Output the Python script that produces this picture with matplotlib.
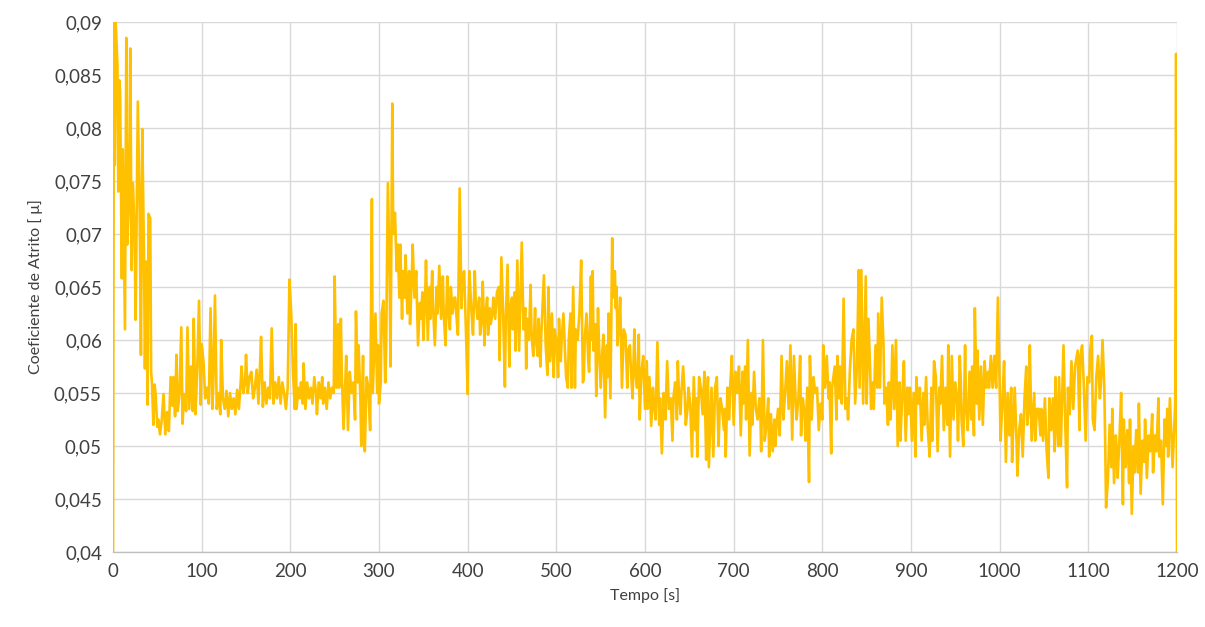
import matplotlib
matplotlib.use("Agg")
import matplotlib.pyplot as plt
from matplotlib.ticker import FuncFormatter, MultipleLocator

# tempo [s] e coeficiente de atrito
tempo = [
    0, 1, 2, 3, 5, 6, 7, 8, 10, 11, 12, 13.5, 15, 16, 18, 19.5, 21, 22.5, 24.5, 25.5,
    27, 28, 30, 31.5, 33, 35, 36, 37.5, 39, 40, 42, 43, 44, 45.5, 47, 48, 50, 51, 53, 55,
    57, 59, 61, 63, 65, 67, 68, 70, 71.5, 73, 75, 77, 78.5, 80, 82.5, 84, 86, 88, 90, 91,
    93, 95, 97, 99, 100,
    102, 104, 106, 108, 110, 112, 113, 115, 117, 119, 121, 122, 124, 126, 128, 130, 132, 134, 136, 138,
    140, 142, 144, 145, 147, 149, 150, 152, 154, 156, 158, 160, 162, 164, 166, 167, 169, 171, 173, 175,
    177, 179, 181, 183, 185, 187, 189, 191, 193, 195, 197, 199, 201, 203, 205, 206, 207, 209,
    211, 212, 214, 215, 217, 219, 221, 223, 225, 227, 229, 230, 232, 234, 236, 237, 239, 241, 243, 245,
    247, 249, 250, 252, 254, 255, 257, 258, 260, 262, 263, 265, 267, 269, 271, 273, 274, 276, 277, 279,
    280, 282, 283, 284, 286, 288, 290, 292, 293, 295, 296, 298, 299, 300, 302, 303, 305, 307, 308, 310,
    312, 313, 315, 316, 318,
    320, 321, 323, 324, 326, 327, 329, 330, 332, 334, 335, 337, 338, 340, 342, 344, 346, 347, 349, 350,
    352, 353, 355, 357, 358, 360, 361, 363, 365, 366, 368, 370, 372, 373, 375, 377, 378, 380, 381, 383,
    385, 386, 388, 389, 391, 393, 394, 396, 398, 400, 401, 402, 404, 406, 408, 409, 411, 413, 414, 416,
    417, 419, 420, 422,
    423, 425, 426, 428, 429, 431, 433, 435, 436, 438, 440, 442, 443, 445, 447, 448, 450, 451, 453, 454,
    456, 458, 459, 461, 463, 465, 466, 467, 469, 471, 472, 474, 476, 477, 479, 480, 482, 483, 486, 488,
    490, 491, 493, 495, 497, 498, 500, 502, 503, 505, 506, 508, 510, 511, 513, 514, 516, 517, 519, 521,
    522, 524, 526, 528, 530,
    531, 532, 534, 536, 537, 539, 540, 541, 542, 544, 545, 547, 548, 550, 552, 553, 555, 557, 558, 559,
    561, 563, 564, 566, 567, 568, 569, 571, 572, 574, 576, 578, 580, 581, 583, 584, 586, 588, 589, 591,
    593, 594, 596, 598, 600, 602, 603, 605, 607, 609, 610, 612, 614, 616, 617, 619, 621, 623, 625, 627,
    629, 631, 632, 634, 636,
    637, 638, 640, 641, 643, 645, 646, 648, 649, 651, 653, 655, 657, 658, 659, 661, 663, 665, 667, 669,
    670, 671, 672, 674, 675, 677, 679, 681, 683, 684, 685, 687, 689, 690, 691, 693, 695, 696, 698, 700,
    702, 704, 706, 708, 710, 711, 713, 714, 716, 718, 720, 721, 723, 725, 727, 729, 730, 731, 733, 735,
    737, 739, 740, 742,
    744, 746, 747, 748, 750, 752, 754, 756, 758, 760, 762, 764, 766, 768, 770, 771, 773, 775, 776, 778,
    780, 781, 783, 785, 786, 788, 790, 792, 794, 796, 798, 800, 801, 803, 805, 807, 808, 810, 811, 814,
    816, 817, 819, 820, 822, 824, 826, 828, 829, 831, 833, 835, 837, 839, 841, 842, 844, 846, 848,
    849, 850, 852, 854, 855, 857, 858, 860, 862, 863, 865, 867, 869, 870, 872, 874, 875, 877, 879, 881,
    883, 885, 887, 888, 890, 892, 894, 896, 897, 899, 901, 903, 905, 906, 908, 910, 912, 914, 915, 917,
    919, 921, 923, 924, 926, 928, 930, 932, 933, 935, 937, 939, 941, 942, 944, 946, 948, 950, 952, 953,
    955,
    956, 957, 959, 961, 962, 964, 966, 968, 969, 971, 972, 974, 975, 977, 979, 981, 983, 985, 987, 988,
    990, 992, 994, 996, 998, 1000, 1001, 1003, 1005, 1007, 1009, 1011, 1013, 1014, 1015, 1017, 1019, 1020, 1022, 1024,
    1026, 1028, 1030, 1031, 1033, 1034, 1036, 1039, 1040, 1042, 1044, 1046, 1047, 1049, 1051, 1053, 1055, 1056, 1058, 1060,
    1062,
    1063, 1064, 1066, 1067, 1069, 1072, 1074, 1076, 1077, 1079, 1081, 1083, 1085, 1087, 1088, 1090, 1091, 1093, 1095, 1097,
    1099, 1101, 1102, 1104, 1105, 1107, 1109, 1111, 1113, 1114, 1116, 1118, 1119, 1120, 1122, 1124, 1126, 1127, 1129, 1131,
    1132, 1133, 1135, 1137, 1139, 1140, 1142, 1144, 1146, 1147, 1149, 1151, 1152, 1154, 1156, 1157, 1159, 1161, 1163, 1164,
    1166, 1168, 1170, 1172, 1173, 1175, 1177, 1179, 1180, 1182, 1184, 1186, 1188, 1189, 1190, 1192, 1195, 1198, 1199, 1200,
]

atrito = [
    0.0400, 0.0900, 0.0765, 0.0900, 0.0860, 0.0740, 0.0845, 0.0835, 0.0658, 0.0780, 0.0710, 0.0610, 0.0885, 0.0690, 0.0727, 0.0875, 0.0666, 0.0748, 0.0694, 0.0619,
    0.0746, 0.0825, 0.0727, 0.0586, 0.0799, 0.0676, 0.0573, 0.0674, 0.0539, 0.0719, 0.0715, 0.0570, 0.0559, 0.0520, 0.0558, 0.0549, 0.0518, 0.0525, 0.0511, 0.0525,
    0.0549, 0.0511, 0.0532, 0.0514, 0.0565, 0.0538, 0.0565, 0.0528, 0.0586, 0.0533, 0.0549, 0.0612, 0.0521, 0.0549, 0.0533, 0.0612, 0.0535, 0.0575, 0.0533, 0.0620,
    0.0530, 0.0571, 0.0637, 0.0539, 0.0596,
    0.0580, 0.0545, 0.0555, 0.0540, 0.0630, 0.0535, 0.0555, 0.0642, 0.0535, 0.0550, 0.0530, 0.0600, 0.0545, 0.0535, 0.0552, 0.0528, 0.0550, 0.0535, 0.0545, 0.0530,
    0.0553, 0.0535, 0.0560, 0.0575, 0.0550, 0.0560, 0.0586, 0.0550, 0.0565, 0.0570, 0.0545, 0.0555, 0.0572, 0.0540, 0.0580, 0.0603, 0.0537, 0.0560, 0.0540, 0.0555,
    0.0545, 0.0611, 0.0540, 0.0560, 0.0545, 0.0565, 0.0540, 0.0560, 0.0550, 0.0535, 0.0555, 0.0657, 0.0625, 0.0570, 0.0535, 0.0615, 0.0535, 0.0555,
    0.0545, 0.0560, 0.0540, 0.0578, 0.0535, 0.0560, 0.0545, 0.0555, 0.0540, 0.0565, 0.0550, 0.0530, 0.0560, 0.0545, 0.0565, 0.0540, 0.0555, 0.0535, 0.0560, 0.0545,
    0.0555, 0.0550, 0.0660, 0.0555, 0.0615, 0.0555, 0.0620, 0.0570, 0.0516, 0.0560, 0.0585, 0.0515, 0.0570, 0.0550, 0.0560, 0.0525, 0.0627, 0.0560, 0.0595, 0.0545,
    0.0500, 0.0585, 0.0510, 0.0495, 0.0565, 0.0555, 0.0515, 0.0733, 0.0550, 0.0600, 0.0625, 0.0550, 0.0595, 0.0540, 0.0560, 0.0625, 0.0637, 0.0560, 0.0590, 0.0748,
    0.0661, 0.0575, 0.0823, 0.0700, 0.0720,
    0.0665, 0.0690, 0.0640, 0.0690, 0.0620, 0.0665, 0.0640, 0.0680, 0.0625, 0.0665, 0.0615, 0.0660, 0.0690, 0.0640, 0.0665, 0.0595, 0.0635, 0.0620, 0.0645, 0.0600,
    0.0640, 0.0675, 0.0600, 0.0650, 0.0620, 0.0665, 0.0630, 0.0595, 0.0650, 0.0625, 0.0670, 0.0620, 0.0660, 0.0625, 0.0595, 0.0660, 0.0630, 0.0610, 0.0650, 0.0625,
    0.0640, 0.0640, 0.0615, 0.0605, 0.0743, 0.0630, 0.0655, 0.0665, 0.0610, 0.0549, 0.0635, 0.0665, 0.0630, 0.0605, 0.0665, 0.0640, 0.0620, 0.0640, 0.0605, 0.0620,
    0.0655, 0.0595, 0.0625, 0.0640,
    0.0605, 0.0630, 0.0615, 0.0625, 0.0640, 0.0620, 0.0645, 0.0650, 0.0581, 0.0678, 0.0625, 0.0556, 0.0620, 0.0671, 0.0575, 0.0630, 0.0640, 0.0610, 0.0645, 0.0590,
    0.0675, 0.0590, 0.0625, 0.0692, 0.0610, 0.0630, 0.0573, 0.0620, 0.0600, 0.0652, 0.0605, 0.0585, 0.0630, 0.0600, 0.0585, 0.0620, 0.0575, 0.0605, 0.0661, 0.0595,
    0.0567, 0.0650, 0.0580, 0.0625, 0.0565, 0.0610, 0.0600, 0.0565, 0.0620, 0.0580, 0.0600, 0.0625, 0.0585, 0.0565, 0.0555, 0.0600, 0.0625, 0.0555, 0.0650, 0.0555,
    0.0610, 0.0600, 0.0625, 0.0675, 0.0560,
    0.0565, 0.0600, 0.0625, 0.0580, 0.0570, 0.0660, 0.0600, 0.0665, 0.0590, 0.0615, 0.0547, 0.0630, 0.0600, 0.0555, 0.0590, 0.0605, 0.0527, 0.0595, 0.0565, 0.0625,
    0.0545, 0.0696, 0.0640, 0.0665, 0.0630, 0.0650, 0.0595, 0.0620, 0.0640, 0.0555, 0.0610, 0.0605, 0.0555, 0.0590, 0.0595, 0.0573, 0.0545, 0.0610, 0.0570, 0.0555,
    0.0605, 0.0525, 0.0570, 0.0585, 0.0535, 0.0580, 0.0535, 0.0565, 0.0519, 0.0555, 0.0540, 0.0525, 0.0598, 0.0520, 0.0545, 0.0493, 0.0550, 0.0525, 0.0580, 0.0535,
    0.0545, 0.0505, 0.0545, 0.0560, 0.0525,
    0.0580, 0.0555, 0.0530, 0.0550, 0.0575, 0.0545, 0.0520, 0.0535, 0.0555, 0.0540, 0.0490, 0.0565, 0.0515, 0.0545, 0.0490, 0.0565, 0.0555, 0.0530, 0.0570, 0.0487,
    0.0540, 0.0565, 0.0480, 0.0530, 0.0555, 0.0490, 0.0555, 0.0565, 0.0500, 0.0530, 0.0545, 0.0535, 0.0515, 0.0535, 0.0490, 0.0555, 0.0525, 0.0555, 0.0585, 0.0520,
    0.0570, 0.0550, 0.0575, 0.0510, 0.0570, 0.0540, 0.0575, 0.0525, 0.0600, 0.0491, 0.0550, 0.0520, 0.0570, 0.0535, 0.0525, 0.0545, 0.0535, 0.0495, 0.0600, 0.0505,
    0.0520, 0.0545, 0.0490, 0.0530,
    0.0495, 0.0525, 0.0500, 0.0515, 0.0535, 0.0510, 0.0585, 0.0525, 0.0550, 0.0580, 0.0535, 0.0595, 0.0506, 0.0585, 0.0540, 0.0525, 0.0545, 0.0585, 0.0510, 0.0545,
    0.0530, 0.0505, 0.0555, 0.0466, 0.0585, 0.0525, 0.0565, 0.0550, 0.0555, 0.0515, 0.0540, 0.0525, 0.0595, 0.0555, 0.0585, 0.0545, 0.0560, 0.0493, 0.0555, 0.0575,
    0.0525, 0.0585, 0.0545, 0.0575, 0.0540, 0.0639, 0.0535, 0.0545, 0.0525, 0.0570, 0.0600, 0.0610, 0.0540, 0.0575, 0.0666, 0.0555, 0.0666, 0.0540, 0.0620,
    0.0660, 0.0540, 0.0620, 0.0570, 0.0535, 0.0560, 0.0535, 0.0595, 0.0555, 0.0625, 0.0555, 0.0640, 0.0595, 0.0540, 0.0555, 0.0520, 0.0560, 0.0525, 0.0595, 0.0535,
    0.0600, 0.0500, 0.0560, 0.0505, 0.0545, 0.0580, 0.0505, 0.0555, 0.0530, 0.0555, 0.0505, 0.0550, 0.0490, 0.0565, 0.0540, 0.0555, 0.0505, 0.0550, 0.0520, 0.0565,
    0.0515, 0.0490, 0.0555, 0.0505, 0.0580, 0.0565, 0.0495, 0.0555, 0.0540, 0.0585, 0.0515, 0.0555, 0.0520, 0.0595, 0.0490, 0.0585, 0.0525, 0.0560, 0.0540, 0.0505,
    0.0585,
    0.0565, 0.0525, 0.0500, 0.0595, 0.0540, 0.0515, 0.0570, 0.0525, 0.0575, 0.0510, 0.0630, 0.0540, 0.0590, 0.0525, 0.0575, 0.0520, 0.0580, 0.0555, 0.0570, 0.0555,
    0.0585, 0.0555, 0.0585, 0.0555, 0.0640, 0.0555, 0.0505, 0.0540, 0.0580, 0.0485, 0.0550, 0.0510, 0.0555, 0.0485, 0.0510, 0.0555, 0.0505, 0.0472, 0.0515, 0.0530,
    0.0490, 0.0545, 0.0575, 0.0520, 0.0535, 0.0595, 0.0505, 0.0550, 0.0505, 0.0535, 0.0535, 0.0510, 0.0535, 0.0505, 0.0545, 0.0495, 0.0470, 0.0545, 0.0515, 0.0545,
    0.0495,
    0.0565, 0.0535, 0.0500, 0.0565, 0.0500, 0.0595, 0.0520, 0.0461, 0.0555, 0.0530, 0.0580, 0.0535, 0.0575, 0.0585, 0.0590, 0.0515, 0.0585, 0.0595, 0.0555, 0.0505,
    0.0565, 0.0560, 0.0590, 0.0604, 0.0525, 0.0515, 0.0565, 0.0585, 0.0545, 0.0555, 0.0600, 0.0555, 0.0505, 0.0442, 0.0467, 0.0520, 0.0480, 0.0535, 0.0465, 0.0510,
    0.0495, 0.0470, 0.0505, 0.0550, 0.0445, 0.0525, 0.0480, 0.0515, 0.0465, 0.0525, 0.0436, 0.0500, 0.0475, 0.0515, 0.0475, 0.0540, 0.0455, 0.0505, 0.0485, 0.0525,
    0.0470, 0.0510, 0.0495, 0.0530, 0.0475, 0.0510, 0.0495, 0.0545, 0.0490, 0.0505, 0.0445, 0.0525, 0.0500, 0.0535, 0.0490, 0.0545, 0.0480, 0.0540, 0.0870, 0.0400,
]

x_ticks = list(range(0, 1201, 100))
line_color = "#FFC000"
grid_color = "#D9D9D9"
text_color = "#404040"


def decimal_comma(v, _pos):
    s = f"{v:.3f}".rstrip("0").rstrip(".")
    return s.replace(".", ",")


plt.rcParams["font.family"] = ["Lato", "DejaVu Sans"]

fig = plt.figure(figsize=(12.05, 6.27), dpi=100)
ax = fig.add_axes([113 / 1205, 1 - 552 / 627, (1177 - 113) / 1205, (552 - 22) / 627])

ax.plot(tempo, atrito, color=line_color, linewidth=1.9, zorder=3)

ax.set_xlim(0, 1200)
ax.set_ylim(0.04, 0.09)
ax.set_xticks(x_ticks)
ax.yaxis.set_major_locator(MultipleLocator(0.005))
ax.yaxis.set_major_formatter(FuncFormatter(decimal_comma))

ax.grid(True, color=grid_color, linewidth=1.0, zorder=0)
ax.set_axisbelow(True)
for side in ("top", "right", "left"):
    ax.spines[side].set_visible(False)
ax.spines["bottom"].set_color("#BFBFBF")
ax.spines["bottom"].set_linewidth(1.0)

ax.tick_params(axis="both", length=0, labelsize=13.5, colors="#404040", pad=8)
ax.set_xlabel("Tempo [s]", fontsize=11.5, color=text_color, labelpad=6)
ax.set_ylabel("Coeficiente de Atrito [ μ]", fontsize=11.5, color=text_color, labelpad=8)

fig.savefig("out.png", dpi=100)
plt.close(fig)
